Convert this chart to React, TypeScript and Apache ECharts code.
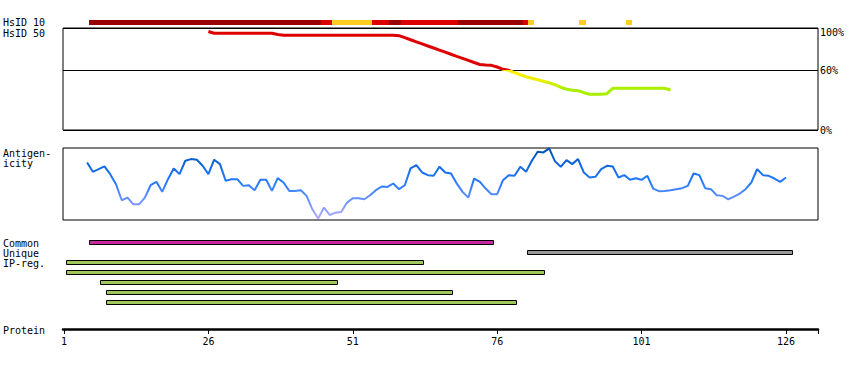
import React, { useEffect, useRef } from "react";
import * as echarts from "echarts";

// ---- data ----
const proteinTicks = [1, 26, 51, 76, 101, 126];

// HsID 10 identity blocks: [start residue, end residue, level]
const hsid10Starts = [5.33, 45.49, 47.4, 54.32, 57.27, 59.34, 69.21, 80.47, 81.33, 90.16, 98.3];
const hsid10Ends = [45.49, 47.4, 54.32, 57.27, 59.34, 69.21, 80.47, 81.33, 82.37, 91.37, 99.34];
const hsid10Levels = ["high", "mid", "low", "mid", "high", "mid", "high", "mid", "low", "low", "low"];

// HsID 50 (% identity) per residue, starting at residue 26
const hsid50Start = 26;
const hsid50Values = [
  99, 97.2, 97.2, 97.2, 97.2, 97.2, 97.2, 97.2, 97.2, 97.2, 97.2, 97.2,
  96.0, 95.2, 95.2, 95.2, 95.2, 95.2, 95.2, 95.2, 95.2, 95.2, 95.2, 95.2, 95.2, 95.2, 95.2, 95.2, 95.2, 95.2, 95.2, 95.2, 95.2,
  94.8, 92.8, 90.7, 88.6, 86.5, 84.4, 82.4, 80.3, 78.2, 76.1, 74.0, 72.0, 69.9, 67.8, 65.8,
  65.3, 65.0, 63.3, 61.0, 60.0, 57.6, 55.5, 53.5, 52.0, 50.5, 49.0, 47.5, 45.5, 43.0, 41.0,
  40.0, 39.5, 37.5, 36.0, 35.9, 35.9, 36.5, 41.9, 41.9, 41.9, 41.9, 41.9, 41.9, 41.9, 41.9, 41.9, 41.9, 40.2,
];

// Antigenicity per residue (relative), starting at residue 5
const antigenStart = 5;
const antigenValues = [
  80.0, 66.9, 70.7, 74.4, 63.7, 49.7, 27.4, 31.1, 21.8, 21.8,
  31.1, 48.3, 53.0, 39.1, 56.7, 71.6, 63.7, 82.3, 84.6, 83.7,
  75.3, 63.7, 83.7, 77.6, 54.4, 56.7, 56.7, 47.4, 48.3, 41.4,
  55.8, 55.8, 40.4, 58.1, 52.1, 40.4, 40.4, 41.4, 33.5, 14.9,
  2.0, 17.2, 7.0, 10.2, 11.2, 24.2, 30.2, 30.2, 28.8, 34.4,
  41.4, 46.5, 46.0, 50.7, 42.8, 48.3, 71.6, 76.2, 66.0, 62.3,
  61.4, 73.9, 66.0, 64.6, 50.7, 39.1, 31.1, 57.6, 53.0, 43.7,
  35.8, 35.8, 55.3, 62.3, 61.4, 73.9, 66.9, 82.3, 94.8, 93.9,
  99.5, 81.5, 74.0, 83.2, 77.6, 84.6, 66.0, 59.0, 60.0, 70.7,
  75.3, 74.4, 59.0, 62.3, 55.8, 58.1, 55.8, 61.4, 43.7, 40.0,
  40.4, 41.4, 42.8, 44.2, 47.4, 64.6, 62.3, 44.2, 42.8, 34.4,
  33.5, 28.8, 32.5, 36.7, 42.8, 52.1, 70.7, 62.3, 61.4, 57.6,
  53.0, 59.0,
];

// Feature rows
const featureRowNames = ["Common", "Unique", "IP1", "IP2", "IP3", "IP4", "IP5"];
const featureStarts = [5.33, 81.2, 1.4, 1.4, 7.23, 8.27, 8.27];
const featureEnds = [75.4, 127.3, 63.45, 84.4, 48.4, 68.3, 79.4];
const featureKinds = ["common", "unique", "ipreg", "ipreg", "ipreg", "ipreg", "ipreg"];

const leftLabels = ["HsID 10", "HsID 50", "Antigen-", "icity", "Common", "Unique", "IP-reg.", "Protein"];
const leftLabelY = [22, 33, 153, 163, 243, 253, 263, 330];

// ---- styling ----
const FONT = "DejaVu Sans Mono";
const XMIN = 0.827;
const XMAX = 131.54;
const levelColor: Record<string, string> = { high: "#990000", mid: "#dd0000", low: "#ffcc22" };
const featureColor: Record<string, string> = { common: "#c8289f", unique: "#999999", ipreg: "#9fc75a" };

export default function App() {
  const ref = useRef<HTMLDivElement>(null);
  useEffect(() => {
    if (!ref.current) return;
    const chart = echarts.init(ref.current, undefined, { renderer: "svg" });
    const grid = (top: number, height: number, border = false) => ({
      left: 63,
      right: 32,
      top,
      height,
      show: border,
      borderColor: "#000",
      borderWidth: 1,
      backgroundColor: "transparent",
    });
    const hiddenX = (i: number) => ({ type: "value", gridIndex: i, min: XMIN, max: XMAX, show: false });

    const hsid10Data = hsid10Starts.map((s, i) => [s, hsid10Ends[i], 0, hsid10Levels[i]]);
    const hsid50Data = hsid50Values.map((v, i) => [hsid50Start + i, v]);
    const antigenData = antigenValues.map((v, i) => [antigenStart + i, v]);
    const featureData = featureStarts.map((s, i) => [s, featureEnds[i], i, featureKinds[i]]);

    const option: any = {
      animation: false,
      grid: [grid(20, 5), grid(28, 102, true), grid(148, 72, true), grid(237.5, 70), grid(327, 2)],
      xAxis: [
        hiddenX(0),
        hiddenX(1),
        hiddenX(2),
        hiddenX(3),
        {
          type: "value",
          gridIndex: 4,
          min: XMIN,
          max: XMAX,
          position: "bottom",
          axisLine: { show: true, lineStyle: { color: "#000", width: 2.5 } },
          axisTick: { show: true, length: 5, customValues: [...proteinTicks, XMAX], lineStyle: { color: "#000", width: 1 } },
          axisLabel: { customValues: proteinTicks, fontSize: 10, fontFamily: FONT, color: "#000", margin: 7 },
          splitLine: { show: false },
        },
      ],
      yAxis: [
        { type: "category", gridIndex: 0, data: ["HsID 10"], show: false },
        {
          type: "value",
          gridIndex: 1,
          min: 0,
          max: 102.5,
          interval: 60,
          position: "right",
          axisLine: { show: false },
          axisTick: { show: false },
          splitLine: { show: true, lineStyle: { color: "#000", width: 1 } },
          axisLabel: {
            customValues: [0, 60, 100],
            formatter: (v: number) => (v === 100 ? `{top|${v}%}` : `${v}%`),
            rich: { top: { fontSize: 10, fontFamily: FONT, color: "#000", padding: [4, 0, 0, 0] } },
            fontSize: 10,
            fontFamily: FONT,
            color: "#000",
            margin: 2,
          },
        },
        { type: "value", gridIndex: 2, min: 0, max: 100, show: false },
        { type: "category", gridIndex: 3, data: featureRowNames, inverse: true, show: false },
        { type: "value", gridIndex: 4, show: false },
      ],
      visualMap: [
        {
          type: "piecewise",
          show: false,
          seriesIndex: 1,
          dimension: 1,
          pieces: [
            { gt: 60, color: "#dd0000" },
            { gt: 55, lte: 60, color: "#ffee00" },
            { gt: 48, lte: 55, color: "#eeee00" },
            { gt: 43, lte: 48, color: "#ccee00" },
            { lte: 43, color: "#aaee00" },
          ],
        },
        {
          type: "continuous",
          show: false,
          seriesIndex: 2,
          dimension: 1,
          min: 0,
          max: 100,
          inRange: { color: ["#b4acff", "#8a9cff", "#5a8cff", "#2a7cff", "#1670f0", "#0a60d0", "#0050b0"] },
        },
      ],
      series: [
        {
          type: "custom",
          xAxisIndex: 0,
          yAxisIndex: 0,
          data: hsid10Data,
          encode: { x: [0, 1], y: 2 },
          renderItem: (params: any, api: any) => {
            const a = api.coord([api.value(0), api.value(2)]);
            const b = api.coord([api.value(1), api.value(2)]);
            const lvl = hsid10Data[params.dataIndex][3] as string;
            return {
              type: "rect",
              shape: { x: a[0], y: a[1] - 2.5, width: b[0] - a[0], height: 5 },
              style: { fill: levelColor[lvl] },
            };
          },
        },
        {
          type: "line",
          xAxisIndex: 1,
          yAxisIndex: 1,
          data: hsid50Data,
          showSymbol: false,
          lineStyle: { width: 3 },
        },
        {
          type: "line",
          xAxisIndex: 2,
          yAxisIndex: 2,
          data: antigenData,
          showSymbol: false,
          lineStyle: { width: 2 },
        },
        {
          type: "custom",
          xAxisIndex: 3,
          yAxisIndex: 3,
          data: featureData,
          encode: { x: [0, 1], y: 2 },
          renderItem: (params: any, api: any) => {
            const a = api.coord([api.value(0), api.value(2)]);
            const b = api.coord([api.value(1), api.value(2)]);
            const kind = featureData[params.dataIndex][3] as string;
            return {
              type: "rect",
              shape: { x: Math.round(a[0]) + 0.5, y: a[1] - 2, width: Math.round(b[0] - a[0]) - 1, height: 4 },
              style: { fill: featureColor[kind], stroke: "#000", lineWidth: 1 },
            };
          },
        },
      ],
      graphic: leftLabels.map((t, i) => ({
        type: "text",
        x: 3,
        y: leftLabelY[i],
        style: { text: t, fill: "#000", font: `10px "${FONT}"`, verticalAlign: "middle" },
      })),
    };
    chart.setOption(option);
    return () => chart.dispose();
  }, []);
  return (
    <div
      ref={ref}
      style={{ position: "fixed", left: 0, top: 0, width: 850, height: 370, background: "#fff" }}
    />
  );
}
